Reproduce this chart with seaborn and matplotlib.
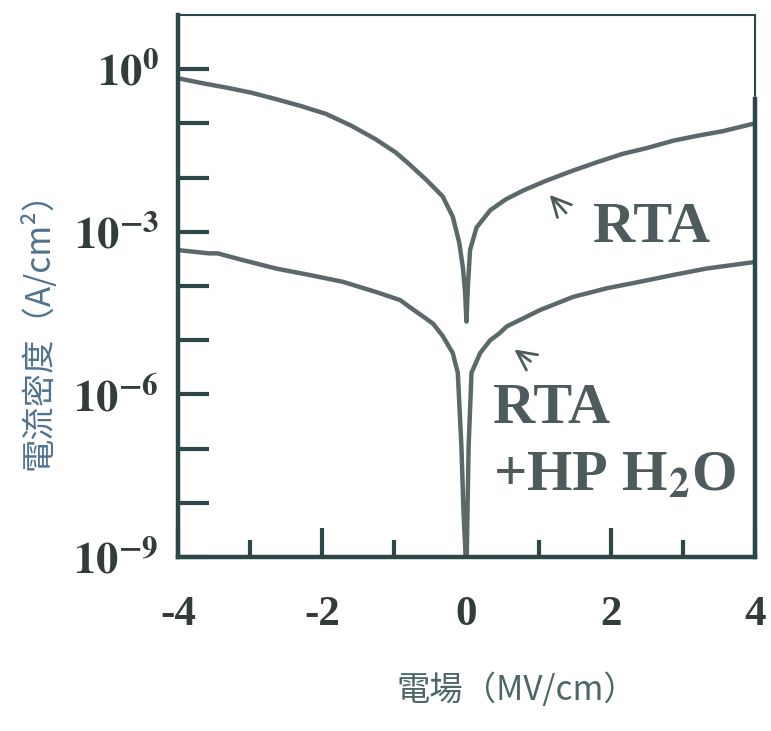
import pandas as pd
import matplotlib
matplotlib.use('Agg')
import matplotlib.pyplot as plt
import matplotlib.ticker as mticker
import seaborn as sns

# I-V data (field in MV/cm, current density in A/cm^2)
rta_field = [-4.0, -3.66, -3.34, -2.99, -2.64, -2.30, -1.95, -1.60, -1.26, -0.98, -0.80,
             -0.55, -0.33, -0.19, -0.10, -0.05, -0.02, 0.0, 0.02, 0.05, 0.14, 0.33, 0.55,
             0.79, 1.10, 1.48, 1.80, 2.17, 2.50, 2.87, 3.20, 3.56, 4.0]
rta_j = [6.8e-1, 5.5e-1, 4.6e-1, 3.7e-1, 2.8e-1, 2.1e-1, 1.5e-1, 9.1e-2, 5.1e-2, 2.9e-2,
         1.8e-2, 8.9e-3, 4.5e-3, 1.9e-3, 6.3e-4, 2.2e-4, 8.0e-5, 2.2e-5, 1.0e-4, 4.6e-4,
         1.2e-3, 2.5e-3, 4.0e-3, 5.8e-3, 8.7e-3, 1.35e-2, 1.9e-2, 2.75e-2, 3.5e-2, 4.8e-2,
         5.9e-2, 7.2e-2, 1.0e-1]

hp_field = [-4.0, -3.57, -3.45, -3.10, -2.64, -2.18, -1.72, -1.26, -0.92, -0.80, -0.56,
            -0.46, -0.33, -0.19, -0.12, -0.07, -0.04, 0.0, 0.03, 0.07, 0.19, 0.33, 0.46,
            0.56, 0.83, 1.02, 1.48, 1.95, 2.41, 2.87, 3.33, 3.98]
hp_j = [4.6e-4, 4.0e-4, 4.0e-4, 3.0e-4, 2.1e-4, 1.6e-4, 1.2e-4, 7.8e-5, 5.5e-5, 4.2e-5,
        2.5e-5, 2.0e-5, 1.2e-5, 5.8e-6, 2.5e-6, 1.1e-7, 6.3e-9, 5e-10, 1.1e-7, 2.5e-6,
        5.8e-6, 1.0e-5, 1.35e-5, 1.8e-5, 2.7e-5, 3.6e-5, 6.3e-5, 9.1e-5, 1.2e-4, 1.6e-4,
        2.1e-4, 2.75e-4]

x_ticks = [-4, -2, 0, 2, 4]
x_minor = [-3, -1, 1, 3]
y_ticks = [10.0 ** k for k in range(-9, 1)]
y_labels = {-9: '-9', -6: '-6', -3: '-3', 0: '0'}

df = pd.concat([
    pd.DataFrame({'field': rta_field, 'J': rta_j, 'sample': 'RTA'}),
    pd.DataFrame({'field': hp_field, 'J': hp_j, 'sample': 'RTA+HP H2O'}),
])

sns.set_theme(style='white')
plt.rcParams['font.family'] = ['Liberation Serif', 'DejaVu Sans']
plt.rcParams['mathtext.fontset'] = 'stix'

spine_c = '#2c4747'
line_c = '#5c696b'
text_c = '#333b3b'
cjk = ['Noto Sans CJK TC', 'DejaVu Sans']

fig = plt.figure(figsize=(7.71, 7.31), dpi=100)
ax = fig.add_axes([0.231, 0.238, 0.748, 0.7415])

sns.lineplot(data=df, x='field', y='J', hue='sample', palette=[line_c, line_c],
             legend=False, linewidth=3.2, ax=ax)
ax.set_yscale('log')
ax.set_xlim(-4, 4)
ax.set_ylim(1e-9, 1e1)

# ticks
ax.set_xticks(x_ticks)
ax.set_xticklabels([str(v) for v in x_ticks], fontweight='bold')
ax.xaxis.set_minor_locator(mticker.FixedLocator(x_minor))
ax.set_yticks(y_ticks)
ax.yaxis.set_minor_locator(mticker.NullLocator())
ax.set_yticklabels([r'$\mathbf{10^{%s}}$' % y_labels[k] if k in y_labels else ''
                    for k in range(-9, 1)])
ax.tick_params(which='both', bottom=True, left=True, top=False, right=False)
ax.tick_params(axis='x', which='major', direction='in', length=21, width=3,
               color=spine_c, labelcolor=text_c, labelsize=31, pad=28)
ax.tick_params(axis='x', which='minor', direction='in', length=12, width=3,
               color=spine_c)
ax.tick_params(axis='y', which='major', direction='in', length=22, width=3,
               color=spine_c, labelcolor=text_c, labelsize=32, pad=14)

# spines
for side in ['left', 'bottom']:
    ax.spines[side].set_linewidth(3.2)
    ax.spines[side].set_color(spine_c)
ax.spines['top'].set_linewidth(1.5)
ax.spines['top'].set_color(spine_c)
ax.spines['right'].set_linewidth(3.2)
ax.spines['right'].set_color(spine_c)
ax.spines['right'].set_bounds(1e-9, 10 ** -0.55)
ax.axvline(4, ymin=0.85, ymax=1, color=spine_c, lw=1.5, clip_on=False)

# axis labels
ax.set_xlabel('電場（MV/cm）', family=cjk, fontsize=24, color='#4d6767')
ax.xaxis.set_label_coords(0.5875, -0.214)
ax.set_ylabel('電流密度（A/cm²）', family=cjk, fontsize=24, color='#4f7390')
ax.yaxis.set_label_coords(-0.21, 0.4336)

# curve labels with arrows
lab_c = '#4e5b5d'
ax.text(0.719, 0.581, 'RTA', transform=ax.transAxes, fontsize=42,
        fontweight='bold', color=lab_c, va='baseline')
ax.text(0.546, 0.247, 'RTA', transform=ax.transAxes, fontsize=42,
        fontweight='bold', color=lab_c, va='baseline')
ax.text(0.546, 0.124, r'+HP H$_{\mathbf{2}}$O', transform=ax.transAxes, fontsize=42,
        fontweight='bold', color=lab_c, va='baseline')
arrow = dict(arrowstyle='->', color=lab_c, lw=2, mutation_scale=34)
ax.annotate('', xy=(0.641, 0.672), xytext=(0.676, 0.631),
            xycoords='axes fraction', textcoords='axes fraction', arrowprops=arrow)
ax.annotate('', xy=(0.579, 0.386), xytext=(0.615, 0.358),
            xycoords='axes fraction', textcoords='axes fraction', arrowprops=arrow)

fig.savefig('out.png', dpi=100)
